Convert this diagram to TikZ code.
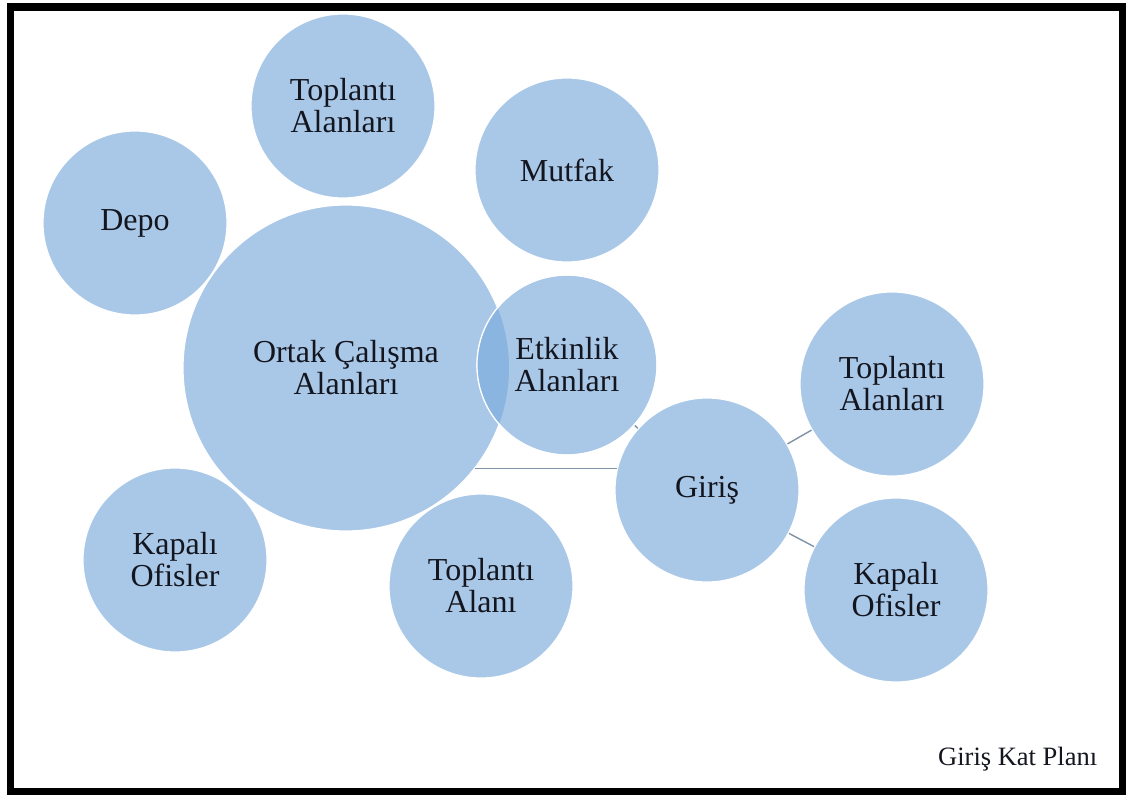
\documentclass[tikz,border=0pt]{standalone}
\usepackage{fontspec}
\setmainfont{Liberation Serif}
\definecolor{bubble}{HTML}{A9C8E8}
\definecolor{bubbledark}{HTML}{8AB5E0}
\definecolor{linkgray}{HTML}{7F93A6}
\definecolor{ink}{HTML}{14161F}
\tikzset{
  room/.style={circle, fill=bubble, draw=white, line width=1.2pt, inner sep=0pt,
    minimum size=184pt, align=center, text=ink,
    font=\fontsize{32}{32}\selectfont},
  bigroom/.style={room, minimum size=326pt},
  midroom/.style={room, minimum size=180pt},
  link/.style={draw=linkgray, line width=1.4pt},
  frame/.style={draw=black, line width=7.5pt}
}
\begin{document}
\begin{tikzpicture}[x=1pt, y=-1pt]
\useasboundingbox (0,0) rectangle (1126,795);
\fill[white] (0,0) rectangle (1126,795);

% centres of the rooms on the entrance side (links are drawn before these rooms)
\coordinate (cEtk) at (567,365);
\coordinate (cGiris) at (707,490);
\coordinate (cTopR) at (892,384);
\coordinate (cKapR) at (896,590);

% rooms around the shared work area
\node[bigroom] (ortak) at (346,368) {Ortak Çalışma\\Alanları};
\node[room] (depo) at (135,223) {Depo};
\node[room] (topT) at (343,106) {Toplantı\\Alanları};
\node[room] (mutfak) at (567,170) {Mutfak};
\node[room] (kapL) at (175,560) {Kapalı\\Ofisler};
\node[room] (topB) at (481,586) {Toplantı\\Alanı};

% links from the entrance, kept under the rooms
\draw[link] (ortak.-38) -- (cGiris |- ortak.-38);
\draw[link] (cEtk) -- (cGiris);
\draw[link] (cGiris) -- (cTopR);
\draw[link] (cGiris) -- (cKapR);

\node[midroom, text opacity=0] (etk) at (cEtk) {Etkinlik\\Alanları};
\node[room] (giris) at (cGiris) {Giriş};
\node[room] (topR) at (cTopR) {Toplantı\\Alanları};
\node[room] (kapR) at (cKapR) {Kapalı\\Ofisler};

% overlap of the shared work area and the event area
\begin{scope}
  \clip (ortak.center) circle (163);
  \fill[bubbledark] (etk.center) circle (90);
\end{scope}
\draw[white, line width=1.2pt] (etk.center) circle (90);
\node[align=center, text=ink, font=\fontsize{32}{32}\selectfont] (etkText) at (etk.center) {Etkinlik\\Alanları};

% caption
\node[anchor=base west, inner sep=0pt, text=ink, font=\fontsize{26.5}{28}\selectfont] (caption) at (938,765) {Giriş Kat Planı};

% frame
\draw[frame] (10.5,7) rectangle (1122.5,791.5);
\end{tikzpicture}
\end{document}
